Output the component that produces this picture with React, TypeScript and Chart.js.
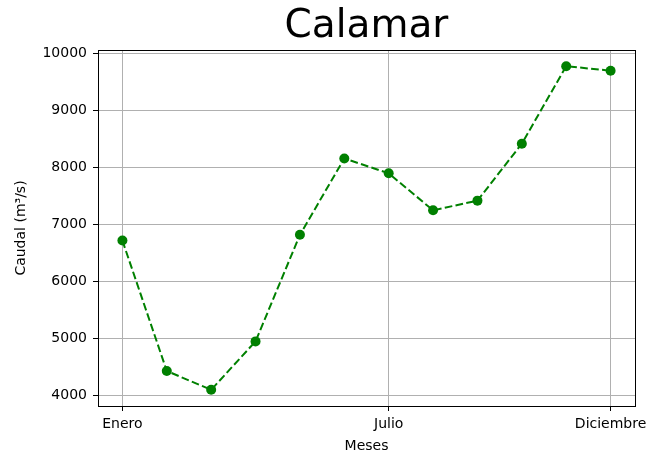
import React, { useEffect, useRef } from "react";
import { Chart, registerables } from "chart.js";

Chart.register(...registerables);

const months = ["Enero", "Febrero", "Marzo", "Abril", "Mayo", "Junio", "Julio", "Agosto", "Septiembre", "Octubre", "Noviembre", "Diciembre"];
const caudal = [6720, 4430, 4100, 4950, 6820, 8160, 7900, 7250, 7420, 8420, 9780, 9700];
const xTickIndices = [0, 6, 11];
const yTickValues = [4000, 5000, 6000, 7000, 8000, 9000, 10000];
const chartTitle = "Calamar";
const xTitle = "Meses";
const yTitle = "Caudal (m³/s)";

const FONT = "'DejaVu Sans', sans-serif";

export default function App() {
  const ref = useRef<HTMLCanvasElement>(null);

  useEffect(() => {
    document.body.style.margin = "0";
    const canvas = ref.current!;
    const yMinD = Math.min(...caudal);
    const yMaxD = Math.max(...caudal);
    const yPad = (yMaxD - yMinD) * 0.05;
    const xPad = (months.length - 1) * 0.05;

    const framePlugin = {
      id: "frameTitle",
      afterDraw(chart: any) {
        const { ctx, chartArea } = chart;
        ctx.save();
        ctx.strokeStyle = "#000";
        ctx.lineWidth = 1;
        ctx.strokeRect(
          Math.round(chartArea.left) + 0.5,
          Math.round(chartArea.top) + 0.5,
          Math.round(chartArea.right - chartArea.left),
          Math.round(chartArea.bottom - chartArea.top)
        );
        ctx.fillStyle = "#000";
        ctx.font = `39px ${FONT}`;
        ctx.textAlign = "center";
        ctx.textBaseline = "alphabetic";
        ctx.fillText(chartTitle, (chartArea.left + chartArea.right) / 2, 37);
        ctx.restore();
      },
    };

    const chart = new Chart(canvas, {
      type: "line",
      data: {
        datasets: [
          {
            data: caudal.map((v, i) => ({ x: i, y: v })),
            borderColor: "#008000",
            backgroundColor: "#008000",
            borderWidth: 2,
            borderDash: [7.7, 3.3],
            tension: 0,
            pointRadius: 5,
            pointBorderWidth: 0,
            pointBackgroundColor: "#008000",
            clip: false as any,
          },
        ],
      },
      options: {
        responsive: false,
        animation: false,
        layout: { padding: { left: 0, right: 15, top: 50, bottom: 0 } },
        plugins: {
          legend: { display: false },
          title: { display: false },
          tooltip: { enabled: false },
        },
        scales: {
          x: {
            type: "linear",
            min: -xPad,
            max: months.length - 1 + xPad,
            afterBuildTicks: (scale: any) => {
              scale.ticks = xTickIndices.map((v) => ({ value: v }));
            },
            afterFit: (scale: any) => {
              scale.height = 49;
              scale.paddingLeft = 0;
              scale.paddingRight = 0;
            },
            ticks: {
              autoSkip: false,
              maxRotation: 0,
              color: "#000",
              font: { family: FONT, size: 14 },
              padding: 5,
              callback: (v: any) => months[Number(v)] ?? "",
            },
            grid: {
              color: "#b0b0b0",
              lineWidth: 1,
              tickColor: "#000",
              tickLength: 5,
            },
            border: { display: true, color: "#000", width: 1 },
            title: {
              display: true,
              text: xTitle,
              color: "#000",
              font: { family: FONT, size: 14 },
              padding: { top: 0, bottom: 0 },
            },
          },
          y: {
            type: "linear",
            min: yMinD - yPad,
            max: yMaxD + yPad,
            afterBuildTicks: (scale: any) => {
              scale.ticks = yTickValues.map((v) => ({ value: v }));
            },
            afterFit: (scale: any) => {
              scale.width = 98;
              scale.paddingTop = 0;
              scale.paddingBottom = 0;
            },
            ticks: {
              autoSkip: false,
              color: "#000",
              font: { family: FONT, size: 14 },
              padding: 6,
              callback: (v: any) => String(v),
            },
            grid: {
              color: "#b0b0b0",
              lineWidth: 1,
              tickColor: "#000",
              tickLength: 5,
            },
            border: { display: true, color: "#000", width: 1 },
            title: {
              display: true,
              text: yTitle,
              color: "#000",
              font: { family: FONT, size: 14 },
              padding: { top: 13, bottom: 0 },
            },
          },
        },
      },
      plugins: [framePlugin],
    });
    return () => chart.destroy();
  }, []);

  return <canvas ref={ref} width={650} height={455} style={{ display: "block" }} />;
}
